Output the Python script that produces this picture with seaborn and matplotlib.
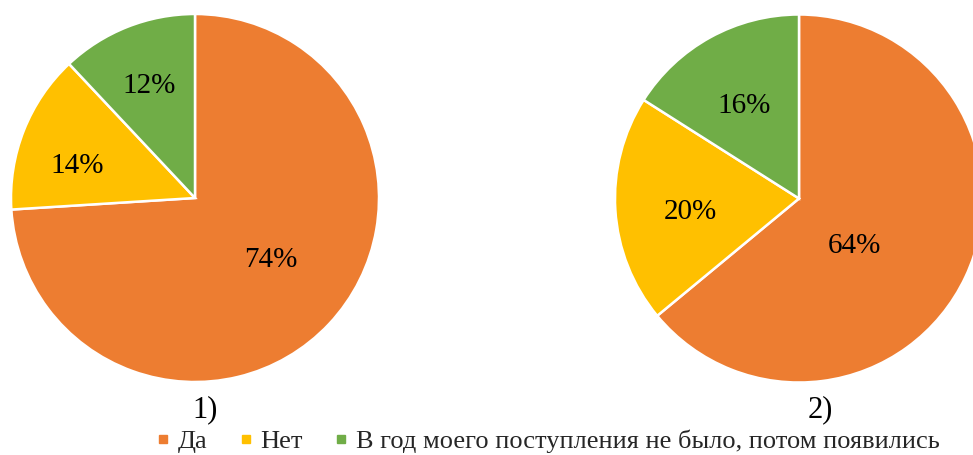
import matplotlib
matplotlib.use("Agg")
import matplotlib.pyplot as plt
import seaborn as sns
from matplotlib.lines import Line2D

categories = ["Да", "Нет", "В год моего поступления не было, потом появились"]
values_1 = [74, 14, 12]
values_2 = [64, 20, 16]
panel_labels = ["1)", "2)"]
colors = sns.color_palette(["#ED7D31", "#FFC000", "#70AD47"])

sns.set_theme(style="white")
plt.rcParams["font.family"] = ["Liberation Serif", "DejaVu Serif"]

W, H = 973, 455
fig = plt.figure(figsize=(W / 100, H / 100), dpi=100)
fig.patch.set_facecolor("white")

R = 184
# label offsets in radius units (style, Excel best-fit placement)
label_pos_1 = [(0.41, -0.335), (-0.64, 0.175), (-0.25, 0.61)]
label_pos_2 = [(0.30, -0.26), (-0.59, -0.075), (-0.30, 0.505)]

def draw_pie(cx, cy, vals, lpos, title, tx):
    ax = fig.add_axes([(cx - R) / W, (H - cy - R) / H, 2 * R / W, 2 * R / H])
    wedges, _ = ax.pie(vals, colors=colors, startangle=90, counterclock=False,
                       radius=1.0, wedgeprops=dict(edgecolor="white", linewidth=1.8))
    ax.set_xlim(-1, 1)
    ax.set_ylim(-1, 1)
    ax.set_aspect("equal")
    ax.axis("off")
    for w in wedges:
        w.set_clip_on(False)
    for v, (x, y) in zip(vals, lpos):
        ax.text(x, y, f"{v}%", ha="center", va="center", fontsize=21, color="black")
    fig.text(tx / W, 1 - 410 / H, title, ha="center", va="center", fontsize=22, color="black")
    return wedges

draw_pie(195, 198, values_1, label_pos_1, panel_labels[0], 205)
draw_pie(799, 198.5, values_2, label_pos_2, panel_labels[1], 820)

handles = [Line2D([0], [0], marker="s", linestyle="", markersize=6,
                  markerfacecolor=c, markeredgecolor=c) for c in colors]
fig.legend(handles, categories, loc="center", bbox_to_anchor=(548 / W, 1 - 441 / H),
           ncol=3, frameon=False, fontsize=19, handlelength=0.5, handletextpad=0.3,
           columnspacing=1.2, borderaxespad=0, borderpad=0)

fig.savefig("out.png", dpi=100, facecolor="white")
